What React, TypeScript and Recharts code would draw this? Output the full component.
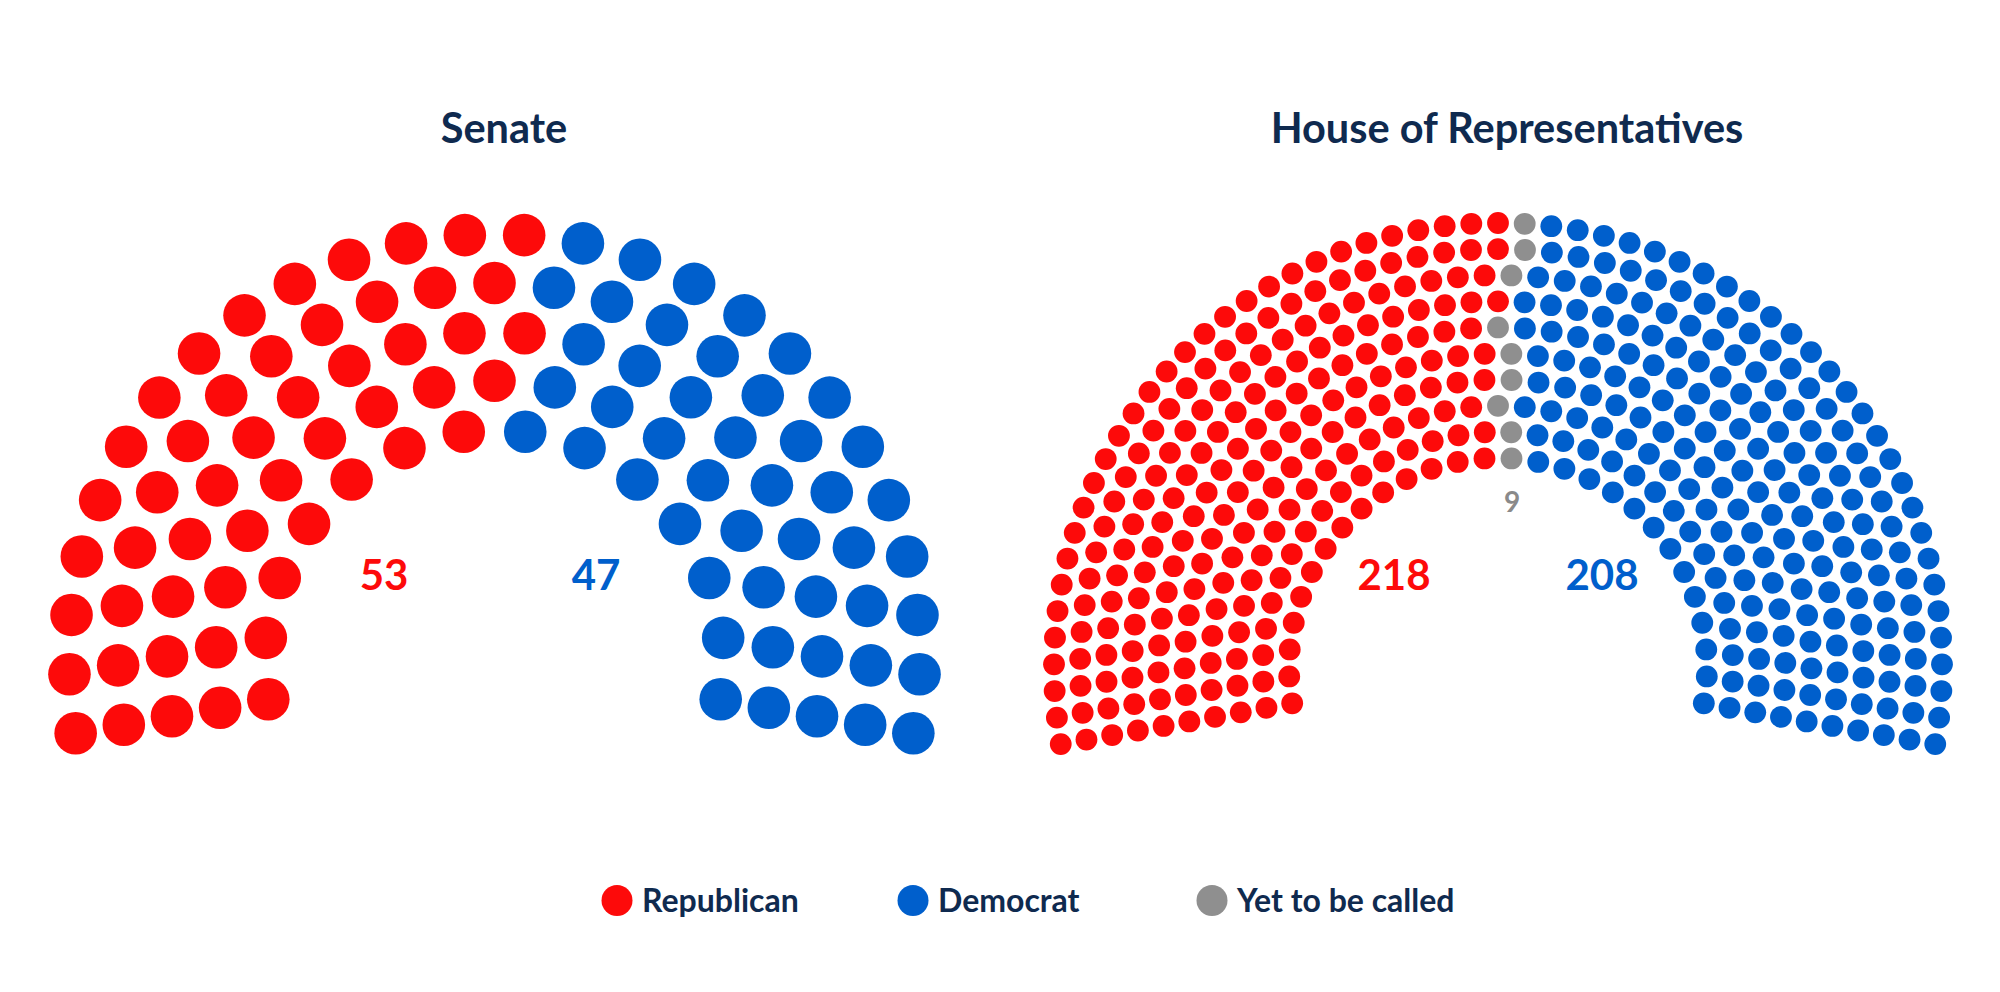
import React from 'react';
import { ScatterChart, Scatter, XAxis, YAxis } from 'recharts';

// ---- data ----
const senateRows = [14, 17, 20, 23, 26];
const senateOrder = ['Republican', 'Democrat'];
const senateSeats = [53, 47];

const houseRows = [28, 32, 35, 38, 42, 45, 49, 52, 55, 59];
const houseOrder = ['Republican', 'Yet to be called', 'Democrat'];
const houseSeats = [218, 9, 208];

const legendParties = ['Republican', 'Democrat', 'Yet to be called'];
const partyColors: Record<string, string> = {
  Republican: '#fd0a0a',
  Democrat: '#005fcc',
  'Yet to be called': '#8f8f8f',
};
const chamberTitles = ['Senate', 'House of Representatives'];

// ---- layout ----
const W = 2000;
const H = 992;
const SPAN = 200; // degrees of arc
const NAVY = '#0f2a4f';
const FONT = 'Lato, "Open Sans", sans-serif';

type Seat = { x: number; y: number; angle: number; row: number };

function parliament(rows: number[], innerRatio: number, order: string[], seats: number[]) {
  const all: Seat[] = [];
  rows.forEach((n, i) => {
    const r = innerRatio + ((1 - innerRatio) * i) / (rows.length - 1);
    for (let k = 0; k < n; k++) {
      const a = 90 + SPAN / 2 - (k * SPAN) / (n - 1);
      const rad = (a * Math.PI) / 180;
      all.push({ x: r * Math.cos(rad), y: r * Math.sin(rad), angle: Math.round(a * 1e6) / 1e6, row: i });
    }
  });
  all.sort((p, q) => q.angle - p.angle || q.row - p.row);
  const out: { party: string; data: Seat[] }[] = [];
  let idx = 0;
  order.forEach((party, j) => {
    out.push({ party, data: all.slice(idx, idx + seats[j]) });
    idx += seats[j];
  });
  return out;
}

type ChamberProps = {
  rows: number[];
  order: string[];
  seats: number[];
  innerRatio: number;
  centerX: number;
  centerY: number;
  scale: number;
  dotR: number;
  left: number;
  width: number;
};

function Chamber({ rows, order, seats, innerRatio, centerX, centerY, scale, dotR, left, width }: ChamberProps) {
  const groups = parliament(rows, innerRatio, order, seats);
  const localCx = centerX - left;
  const xDomain = [(0 - localCx) / scale, (width - localCx) / scale];
  const yDomain = [(centerY - H) / scale, centerY / scale];
  return (
    <div style={{ position: 'absolute', left, top: 0, width, height: H }}>
      <ScatterChart width={width} height={H} margin={{ top: 0, right: 0, bottom: 0, left: 0 }}>
        <XAxis type="number" dataKey="x" domain={xDomain} hide allowDataOverflow />
        <YAxis type="number" dataKey="y" domain={yDomain} hide allowDataOverflow />
        {groups.map((g) => (
          <Scatter
            key={g.party}
            name={g.party}
            data={g.data}
            isAnimationActive={false}
            shape={(p: any) => <circle cx={p.cx} cy={p.cy} r={dotR} fill={partyColors[g.party]} />}
          />
        ))}
      </ScatterChart>
    </div>
  );
}

export default function App() {
  const legendX = [617, 913, 1212];
  return (
    <div style={{ position: 'absolute', left: 0, top: 0, width: W, height: H, background: '#fff', overflow: 'hidden' }}>
      <Chamber
        rows={senateRows}
        order={senateOrder}
        seats={senateSeats}
        innerRatio={229.7 / 425.3}
        centerX={494.5}
        centerY={659.4}
        scale={425.3}
        dotR={21.3}
        left={0}
        width={1000}
      />
      <Chamber
        rows={houseRows}
        order={houseOrder}
        seats={houseSeats}
        innerRatio={209 / 444}
        centerX={1498}
        centerY={667}
        scale={444}
        dotR={10.9}
        left={1000}
        width={1000}
      />
      <svg width={W} height={H} style={{ position: 'absolute', left: 0, top: 0, pointerEvents: 'none' }}>
        <g fontFamily={FONT} fontWeight={700}>
          <text x={504} y={142.5} textAnchor="middle" fontSize={41.5} fill={NAVY}>{chamberTitles[0]}</text>
          <text x={1507} y={142.5} textAnchor="middle" fontSize={41.5} fill={NAVY}>{chamberTitles[1]}</text>

          <text x={384} y={590} textAnchor="middle" fontSize={42} fill={partyColors.Republican}>{senateSeats[0]}</text>
          <text x={596} y={590} textAnchor="middle" fontSize={42} fill={partyColors.Democrat}>{senateSeats[1]}</text>

          <text x={1394} y={590} textAnchor="middle" fontSize={42} fill={partyColors.Republican}>{houseSeats[0]}</text>
          <text x={1602} y={590} textAnchor="middle" fontSize={42} fill={partyColors.Democrat}>{houseSeats[2]}</text>
          <text x={1512} y={512} textAnchor="middle" fontSize={28} fill="#8a8a8a">{houseSeats[1]}</text>

          {legendParties.map((p, i) => (
            <g key={p}>
              <circle cx={legendX[i]} cy={900.5} r={15.5} fill={partyColors[p]} />
              <text x={legendX[i] + 25} y={912} fontSize={32} fill={NAVY}>{p}</text>
            </g>
          ))}
        </g>
      </svg>
    </div>
  );
}
